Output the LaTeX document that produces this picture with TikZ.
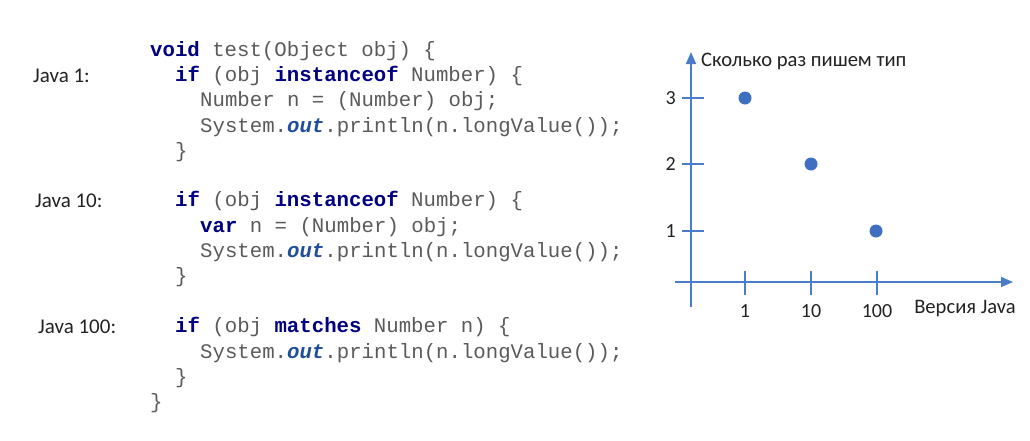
\documentclass[tikz,border=0pt]{standalone}
\usepackage{fontspec}
\setmainfont{Carlito}
\setmonofont{Liberation Mono}
\usetikzlibrary{arrows.meta}
\definecolor{codegray}{HTML}{5A5A5A}
\definecolor{kw}{HTML}{000080}
\definecolor{fld}{HTML}{1F4E9A}
\definecolor{axis}{HTML}{4A7CC9}
\definecolor{dot}{HTML}{3F6FC0}
\definecolor{lbl}{HTML}{222222}
\newcommand{\kwd}[1]{\textcolor{kw}{\bfseries #1}}
\newcommand{\fldout}{\textcolor{fld}{\bfseries\itshape out}}
\tikzset{
  code/.style={anchor=base west, inner sep=0pt, font=\ttfamily\fontsize{20.7}{24}\selectfont, text=codegray},
  ver/.style={anchor=base west, inner sep=0pt, font=\fontsize{21}{24}\selectfont, text=lbl},
  ax/.style={draw=axis, line width=1.8pt},
  axarrow/.style={ax, -{Triangle[length=12pt, width=10pt]}},
  tick/.style={draw=axis, line width=1.8pt},
  ticklbl/.style={inner sep=0pt, font=\fontsize{20}{24}\selectfont, text=lbl},
  axtitle/.style={inner sep=0pt, font=\fontsize{20.6}{24}\selectfont, text=lbl},
  pt/.style={circle, fill=dot, inner sep=0pt, minimum size=13pt},
}
\begin{document}
\begin{tikzpicture}[x=1pt,y=-1pt]
\path[use as bounding box] (0,0) rectangle (1030,440);
% labels
\node[ver] (j1) at (33,82) {Java 1:};
\node[ver] (j10) at (35,207) {Java 10:};
\node[ver] (j100) at (38,333) {Java 100:};
% code
\node[code] (c1) at (150,56) {\kwd{void} test(Object obj) \{};
\node[code] (c2) at (175,81) {\kwd{if} (obj \kwd{instanceof} Number) \{};
\node[code] (c3) at (200,106) {Number n = (Number) obj;};
\node[code] (c4) at (200,132) {System.\fldout.println(n.longValue());};
\node[code] (c5) at (175,157) {\}};
\node[code] (c6) at (175,206) {\kwd{if} (obj \kwd{instanceof} Number) \{};
\node[code] (c7) at (200,232) {\kwd{var} n = (Number) obj;};
\node[code] (c8) at (200,257) {System.\fldout.println(n.longValue());};
\node[code] (c9) at (175,282) {\}};
\node[code] (c10) at (175,332) {\kwd{if} (obj \kwd{matches} Number n) \{};
\node[code] (c11) at (200,358) {System.\fldout.println(n.longValue());};
\node[code] (c12) at (175,383) {\}};
\node[code] (c13) at (150,408) {\}};
% chart
\coordinate (ybot) at (691,307);
\coordinate (ytop) at (691,52);
\coordinate (xl) at (675,282);
\coordinate (xr) at (1013,282);
\draw[axarrow] (ybot) -- (ytop);
\draw[axarrow] (xl) -- (xr);
\foreach \yy/\t in {98/3,164/2,231/1}{
  \draw[tick] (682,\yy) -- (704,\yy);
  \node[ticklbl, anchor=east] (yl\t) at (676,\yy) {\t};
}
\foreach \xx/\t in {745/1,811/10,877/100}{
  \draw[tick] (\xx,271) -- (\xx,295);
  \node[ticklbl] (xlb\t) at (\xx,311) {\t};
}
\node[axtitle, anchor=west] (ytitle) at (701,61) {Сколько раз пишем тип};
\node[axtitle] (xtitle) at (965,309) {Версия Java};
\node[pt] (p1) at (745,98) {};
\node[pt] (p2) at (811,164) {};
\node[pt] (p3) at (876,231) {};
\end{tikzpicture}
\end{document}
